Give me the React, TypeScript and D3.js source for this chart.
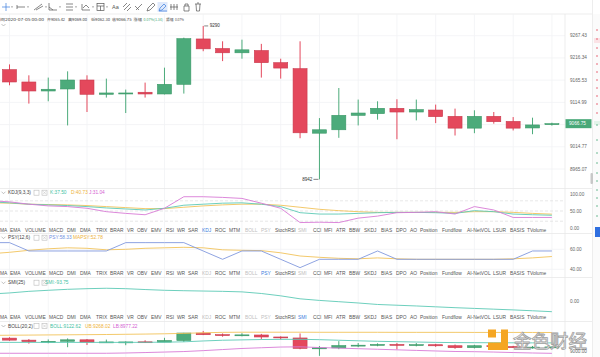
import React from "react";
import * as d3 from "d3";

// ---------- DATA ----------
const opens = [9189.5, 9161.3, 9140.8, 9145.4, 9165.8, 9133.3, 9134.9, 9137.9, 9134.0, 9156.0, 9259.9, 9237.9, 9228.1, 9233.3, 9205.4, 9191.7, 9045.3, 9053.0, 9085.6, 9089.4, 9101.5, 9093.1, 9097.6, 9083.3, 9056.7, 9083.3, 9071.9, 9057.1, 9065.42];
const highs = [9201.5, 9176.5, 9171.3, 9185.6, 9176.5, 9169.0, 9144.0, 9159.9, 9194.0, 9262.9, 9290.0, 9254.5, 9258.3, 9248.6, 9214.5, 9254.5, 9079.4, 9147.6, 9121.3, 9117.4, 9122.0, 9121.3, 9109.9, 9100.8, 9097.0, 9093.1, 9081.7, 9080.3, 9069.0];
const lows = [9153.8, 9112.2, 9117.4, 9062.8, 9093.1, 9125.8, 9090.8, 9125.8, 9133.0, 9134.9, 9231.7, 9209.0, 9214.5, 9171.3, 9169.0, 9034.0, 8942.0, 9034.9, 9062.8, 9075.8, 9031.7, 9074.2, 9068.0, 9040.1, 9045.3, 9066.7, 9051.5, 9043.0, 9062.3];
const closes = [9161.3, 9140.8, 9144.7, 9165.8, 9133.3, 9136.3, 9136.3, 9134.0, 9156.0, 9260.6, 9237.2, 9228.1, 9234.9, 9205.4, 9193.1, 9046.2, 9053.0, 9085.6, 9090.8, 9101.5, 9093.1, 9098.5, 9082.6, 9056.7, 9083.3, 9071.2, 9056.7, 9063.9, 9066.75];

const priceTicks = [9267.43, 9216.34, 9165.53, 9114.99, 9064.74, 9014.77, 8965.07];
const lastPrice = 9066.75;
const highMark = 9290;
const lowMark = 8942;

// indicator series (first value belongs to the candle before the first visible one)
const kdjK = [77, 74, 70, 68, 66, 63, 59, 56, 53, 58, 67, 70, 73, 74, 70, 63, 45, 41, 41, 43, 45, 46, 46, 45, 43, 51, 48, 41, 39, 37.5];
const kdjD = [74, 73, 70, 69, 68, 66, 63, 60, 57, 57, 61, 65, 68, 70, 70, 67, 61, 55, 51, 48, 46, 46, 46, 46, 46, 48, 48, 46, 43, 40.73];
const kdjJ = [80, 77, 70, 65, 63, 58, 48, 43, 39, 58, 92, 92, 90, 87, 73, 58, 16, 17, 16, 29, 35, 45, 46, 48, 41, 63, 53, 31, 31, 31.04];
const psy = [66.67, 66.67, 58.33, 58.33, 58.33, 58.33, 58.33, 66.67, 66.67, 66.67, 66.67, 58.33, 50, 58.33, 58.33, 50, 41.67, 50, 50, 50, 58.33, 50, 50, 50, 50, 50, 50, 50, 58.33, 58.33];
const mapsy = [55.5, 57, 59, 60.5, 61.5, 61, 59.5, 60, 61, 61.5, 62, 61.5, 59.5, 59, 58.7, 56.5, 53.3, 52, 51, 50.5, 51.4, 50.5, 50, 50, 50, 50, 50, 50.5, 51.4, 52.78];
const smi = [72, 82, 97, 107, 116, 122, 126, 122, 114, 107, 103, 100, 97, 92, 77, 55, 27, 12, 0, -12, -26, -33, -40, -48, -56, -63, -70, -77, -85, -93.75];
const bollUB = [9228, 9230, 9232, 9234, 9236, 9238, 9240, 9243, 9246, 9250, 9256, 9264, 9270, 9272, 9272, 9272, 9272, 9271, 9271, 9271, 9271, 9270, 9270, 9270, 9270, 9269, 9269, 9269, 9268.5, 9268.02];
const bollMID = [9130, 9130, 9130, 9130, 9130, 9130, 9130, 9130, 9131, 9133, 9138, 9150, 9160, 9165, 9170, 9172, 9173, 9168, 9160, 9152, 9145, 9140, 9135, 9130, 9127, 9126, 9125, 9124, 9123, 9122.62];
const bollLB = [8978, 8978, 8978, 8978, 8978, 8978, 8978, 8982, 8988, 8995, 9002, 9015, 9030, 9045, 9055, 9065, 9068, 9058, 9050, 9042, 9034, 9026, 9018, 9010, 9003, 9000, 8995, 8988, 8982, 8977.22];

const kdjTicks = [100, 50, 0];
const kdjDash = [80, 50, 20];
const psyTicks = [60, 40];
const smiTicks = [0];
const bollTicks = [9000];

const menuItems = ["MA", "EMA", "VOLUME", "MACD", "DMI", "DMA", "TRIX", "BRAR", "VR", "OBV", "EMV", "RSI", "WR", "SAR", "KDJ", "ROC", "MTM", "BOLL", "PSY", "StochRSI", "SMI", "CCI", "MFI", "ATR", "BBW", "SKDJ", "BIAS", "DPO", "AO", "Position", "Fundflow", "AI-NetVOL", "LSUR", "BASIS", "TVolume"];
const menuX = [0, 10, 25, 49, 67, 80, 96, 110, 127, 137, 151, 166, 177, 188, 202, 215, 229, 245, 261, 275, 298, 313, 324, 336, 349, 364, 381, 396, 410, 420, 442, 467, 493, 510, 527];

const headerSegs = [
  { t: "间2020-07-05 00:00", x: 0, w: 44, c: "#444" },
  { t: "开9065.42", x: 47, w: 18, c: "#444" },
  { t: "高9069.00", x: 68, w: 19, c: "#444" },
  { t: "低9062.30", x: 91, w: 19, c: "#444" },
  { t: "收9066.75", x: 112, w: 19.5, c: "#444" },
  { t: "涨幅", x: 133.5, w: 8.5, c: "#444" },
  { t: "0.07%(1.34)", x: 143.5, w: 19.5, c: "#3fa574" },
  { t: "振幅", x: 166, w: 7.5, c: "#444" },
  { t: "0.07%", x: 175, w: 9, c: "#444" },
];

// ---------- STYLE ----------
const UP = "#4cab7b";
const UP_S = "#3a9867";
const DOWN = "#e4485c";
const DOWN_S = "#c93a4d";
const C_K = "#5cc9b5";
const C_D = "#f2c35a";
const C_J = "#d87ad6";
const C_PSY = "#8199de";
const GRID = "#f1f3f5";
const SEP = "#e9e9e9";
const FONT = "'Liberation Sans', Arial, sans-serif";
const CJK = "'Noto Sans CJK SC', 'Liberation Sans', sans-serif";

const W = 600;
const H = 357;
const PR = 565;

export default function App() {
  const x = d3.scaleLinear().domain([0, 28]).range([9.5, 551.9]);
  const xi = (j: number) => x(j - 1);
  const yMain = d3.scaleLog().domain([8965.07, 9267.43]).range([169, 35.7]);
  const yKdj = d3.scaleLinear().domain([0, 100]).range([228, 194]);
  const yPsy = d3.scaleLinear().domain([40, 60]).range([269.3, 249.3]);
  const ySmi = d3.scaleLinear().domain([-93.75, 0]).range([311.7, 301.7]);
  const yBoll = d3.scaleLinear().domain([9000, 9268.02]).range([351.7, 332.5]);

  const mkLine = (ys: d3.ScaleLinear<number, number>) =>
    d3.line<number>().x((_, j) => xi(j)).y((v) => ys(v));

  const bw = 14;
  const candles = opens.map((o, i) => ({ i, o, h: highs[i], l: lows[i], c: closes[i] }));

  const drawCandles = (ys: (v: number) => number, minH: number, key: string) =>
    candles.map((d) => {
      const up = d.c >= d.o;
      const cx = x(d.i);
      const top = ys(Math.max(d.o, d.c));
      const hgt = Math.max(minH, Math.abs(ys(d.o) - ys(d.c)));
      return (
        <g key={key + d.i}>
          <line x1={cx} x2={cx} y1={ys(d.h)} y2={ys(d.l)} stroke={up ? UP : DOWN} strokeWidth={1} />
          <rect x={cx - bw / 2} y={top} width={bw} height={hgt} fill={up ? UP : DOWN} stroke={up ? UP_S : DOWN_S} strokeWidth={0.6} />
        </g>
      );
    });

  const evenIdx = d3.range(0, 29, 2);

  const chevron = (cx: number, cy: number) => (
    <path d={`M${cx - 2},${cy - 1} L${cx},${cy + 1} L${cx + 2},${cy - 1}`} fill="none" stroke="#999" strokeWidth={0.6} />
  );
  const icons = (sx: number, cy: number) => (
    <g>
      <rect x={sx} y={cy - 2.5} width={5} height={5} fill="none" stroke="#bbb" strokeWidth={0.6} />
      <rect x={sx + 8} y={cy - 2.5} width={5} height={5} fill="none" stroke="#bbb" strokeWidth={0.6} />
      <path d={`M${sx + 9},${cy - 1.5} L${sx + 12},${cy + 1.5} M${sx + 12},${cy - 1.5} L${sx + 9},${cy + 1.5}`} stroke="#bbb" strokeWidth={0.5} />
    </g>
  );

  const panelHeader = (cy: number, title: string, vals: { t: string; x: number; c: string }[]) => (
    <g>
      {chevron(3.5, cy)}
      <text x={8} y={cy} dominantBaseline="central" fontSize={4.8} fill="#444" fontFamily={FONT}>{title}</text>
      {icons(34, cy)}
      {vals.map((v) => (
        <text key={v.t} x={v.x} y={cy} dominantBaseline="central" fontSize={4.8} fill={v.c} fontFamily={FONT}>{v.t}</text>
      ))}
    </g>
  );

  const menuRow = (cy: number, active: string, used: string[]) => (
    <g>
      {menuItems.map((m, k) => (
        <text key={m} x={menuX[k]} y={cy} dominantBaseline="central" fontSize={4.9} fontFamily={FONT}
          fill={m === active ? "#3b7ddd" : used.includes(m) ? "#c0c0c0" : "#555"}>{m}</text>
      ))}
    </g>
  );

  const axisLabel = (v: string, cy: number, key: string) => (
    <text key={key} x={570} y={cy} dominantBaseline="central" fontSize={4.7} fill="#666" fontFamily={FONT}>{v}</text>
  );

  const tbY = 7;

  return (
    <svg width={W} height={H} viewBox={`0 0 ${W} ${H}`} style={{ position: "absolute", left: 0, top: 0, background: "#fff" }}>
      <defs>
        <clipPath id="plot"><rect x={0} y={14} width={PR} height={H - 14} /></clipPath>
      </defs>
      <rect x={0} y={0} width={W} height={H} fill="#fff" />

      {/* toolbar */}
      <g stroke="#555" strokeWidth={0.7} fill="none">
        <path d={`M2,${tbY} L10,${tbY} M6,${tbY - 4} L6,${tbY + 4}`} stroke="#3b7ddd" />
        <path d={`M17,${tbY} L25,${tbY} M17,${tbY - 2} L17,${tbY + 2}`} />
        <path d={`M34,${tbY + 3} L42,${tbY - 3} M36,${tbY + 3} L43,${tbY - 1}`} />
        <path d={`M49,${tbY - 4} L49,${tbY + 3} L57,${tbY + 3} M49,${tbY} L53,${tbY + 3}`} />
        <path d={`M66,${tbY - 3} L73,${tbY - 3} M66,${tbY} L73,${tbY} M66,${tbY + 3} L73,${tbY + 3}`} />
        <path d={`M82,${tbY - 3} L82,${tbY + 3} L90,${tbY + 3} M83,${tbY + 1} L86,${tbY - 2} L89,${tbY + 1}`} />
        <rect x={97} y={tbY - 3.5} width={7} height={7} />
        <path d={`M97,${tbY - 1} L104,${tbY - 1} M100.5,${tbY - 1} L100.5,${tbY + 3.5}`} />
        <path d={`M124,${tbY + 3} L130,${tbY - 3} M123,${tbY} L127,${tbY - 4} M127,${tbY + 4} L131,${tbY}`} />
        <path d={`M136,${tbY + 3} L142,${tbY - 3} M135,${tbY - 1} L139,${tbY + 3}`} />
        <path d={`M147,${tbY + 4} L148,${tbY + 1} L153,${tbY - 4} L155,${tbY - 2} L150,${tbY + 3} Z`} />
        <rect x={157.5} y={tbY - 5} width={10} height={10} fill="#dfe9fb" stroke="none" />
        <path d={`M159,${tbY + 3.5} L160,${tbY + 1} L164,${tbY - 3} L166,${tbY - 1} L162,${tbY + 3} Z M159,${tbY + 4} L167,${tbY + 4}`} stroke="#3b7ddd" />
        <path d={`M171,${tbY - 3} L171,${tbY + 3} M174,${tbY - 3} L174,${tbY + 3} M177,${tbY - 3} L177,${tbY + 3} M170,${tbY} L178,${tbY}`} />
        <path d={`M184,${tbY - 1} L184,${tbY + 4} L189,${tbY + 4} L189,${tbY - 1} Z M185,${tbY - 1} L185,${tbY - 3} L188,${tbY - 3} L188,${tbY - 1}`} />
        <path d={`M195,${tbY - 3} L201,${tbY - 3} M196,${tbY - 3} L196.5,${tbY + 4} L199.5,${tbY + 4} L200,${tbY - 3} M197,${tbY - 4} L199,${tbY - 4}`} />
      </g>
      <text x={112} y={tbY} dominantBaseline="central" fontSize={5.5} fill="#555" fontFamily={FONT}>Aa</text>
      {[11, 27, 45, 59, 75, 92, 106].map((tx) => (
        <path key={"tri" + tx} d={`M${tx},${tbY - 0.5} L${tx + 2},${tbY - 0.5} L${tx + 1},${tbY + 0.8} Z`} fill="#777" />
      ))}
      <line x1={0} x2={592} y1={14} y2={14} stroke={SEP} strokeWidth={0.8} />

      {/* vertical grid */}
      {evenIdx.map((i) => (
        <line key={"vg" + i} x1={x(i)} x2={x(i)} y1={14} y2={H} stroke={GRID} strokeWidth={0.8} />
      ))}
      {/* main horizontal grid */}
      {priceTicks.map((t) => (
        <line key={"hg" + t} x1={0} x2={PR} y1={yMain(t)} y2={yMain(t)} stroke={GRID} strokeWidth={0.8} />
      ))}

      {/* panel separators */}
      {[188.5, 233.5, 277.5, 321.5].map((yy) => (
        <line key={"sep" + yy} x1={0} x2={592} y1={yy} y2={yy} stroke={SEP} strokeWidth={0.8} />
      ))}
      <line x1={PR} x2={PR} y1={14} y2={H} stroke={SEP} strokeWidth={0.8} />

      {/* header */}
      {headerSegs.map((s) => (
        <text key={s.t} x={s.x} y={18.5} dominantBaseline="central" fontSize={3.9} fill={s.c} fontFamily={CJK}
          textLength={s.w} lengthAdjust="spacingAndGlyphs">{s.t}</text>
      ))}
      {chevron(3.5, 25)}

      {/* main candles */}
      <g clipPath="url(#plot)">{drawCandles(yMain, 1, "m")}</g>

      {/* high / low marks */}
      <line x1={x(10) + 1} x2={x(10) + 5} y1={yMain(highMark)} y2={yMain(highMark)} stroke="#333" strokeWidth={0.6} />
      <text x={x(10) + 6.5} y={yMain(highMark)} dominantBaseline="central" fontSize={4.6} fill="#333" fontFamily={FONT}>{String(highMark)}</text>
      <line x1={x(16) - 6} x2={x(16) - 1} y1={yMain(lowMark)} y2={yMain(lowMark)} stroke="#333" strokeWidth={0.6} />
      <text x={x(16) - 7} y={yMain(lowMark)} dominantBaseline="central" textAnchor="end" fontSize={4.6} fill="#333" fontFamily={FONT}>{String(lowMark)}</text>

      {/* price axis */}
      {priceTicks.filter((t) => Math.abs(yMain(t) - yMain(lastPrice)) > 6).map((t) => axisLabel(t.toFixed(2), yMain(t), "pt" + t))}
      <rect x={565.5} y={yMain(lastPrice) - 4.5} width={26} height={9} fill="#48a878" />
      <text x={569} y={yMain(lastPrice)} dominantBaseline="central" fontSize={4.7} fill="#fff" fontFamily={FONT}>{lastPrice.toFixed(2)}</text>

      {/* KDJ panel */}
      {panelHeader(192.7, "KDJ(9,3,3)", [
        { t: "K:" + kdjK[kdjK.length - 1].toFixed(2), x: 50, c: "#3fbfa3" },
        { t: "D:" + kdjD[kdjD.length - 1].toFixed(2), x: 71, c: "#eeb23a" },
        { t: "J:" + kdjJ[kdjJ.length - 1].toFixed(2), x: 89, c: "#d45fd2" },
      ])}
      {kdjDash.map((v) => (
        <line key={"kd" + v} x1={0} x2={PR} y1={yKdj(v)} y2={yKdj(v)} stroke="#d6d6d6" strokeWidth={0.6} strokeDasharray="3,2" />
      ))}
      <g clipPath="url(#plot)" fill="none" strokeWidth={0.9}>
        <path d={mkLine(yKdj)(kdjD) || ""} stroke={C_D} />
        <path d={mkLine(yKdj)(kdjK) || ""} stroke={C_K} />
        <path d={mkLine(yKdj)(kdjJ) || ""} stroke={C_J} />
      </g>
      {kdjTicks.map((t) => axisLabel(t.toFixed(2), yKdj(t), "kt" + t))}
      {menuRow(230, "KDJ", ["BOLL", "PSY", "SMI"])}

      {/* PSY panel */}
      {panelHeader(237.7, "PSY(12,6)", [
        { t: "PSY:" + psy[psy.length - 1].toFixed(2), x: 49, c: "#6f8fe0" },
        { t: "MAPSY:" + mapsy[mapsy.length - 1].toFixed(2), x: 73, c: "#eeb23a" },
      ])}
      {psyTicks.map((t) => (
        <line key={"pg" + t} x1={0} x2={PR} y1={yPsy(t)} y2={yPsy(t)} stroke={GRID} strokeWidth={0.8} />
      ))}
      <g clipPath="url(#plot)" fill="none" strokeWidth={0.9}>
        <path d={mkLine(yPsy)(mapsy) || ""} stroke={C_D} />
        <path d={mkLine(yPsy)(psy) || ""} stroke={C_PSY} />
      </g>
      {psyTicks.map((t) => axisLabel(t.toFixed(2), yPsy(t), "ps" + t))}
      {menuRow(273.3, "PSY", ["KDJ", "BOLL", "SMI"])}

      {/* SMI panel */}
      {panelHeader(282.7, "SMI(25)", [
        { t: "SMI:" + smi[smi.length - 1].toFixed(2), x: 45, c: "#3fbfa3" },
      ])}
      <g clipPath="url(#plot)" fill="none" strokeWidth={0.9}>
        <path d={mkLine(ySmi)(smi) || ""} stroke={C_K} />
      </g>
      {smiTicks.map((t) => axisLabel(t.toFixed(2), ySmi(t), "sm" + t))}
      {menuRow(317.3, "SMI", ["KDJ", "BOLL", "PSY"])}

      {/* BOLL panel */}
      {panelHeader(326, "BOLL(20,2)", [
        { t: "BOLL:" + bollMID[bollMID.length - 1].toFixed(2), x: 50, c: "#3fbfa3" },
        { t: "UB:" + bollUB[bollUB.length - 1].toFixed(2), x: 85, c: "#eeb23a" },
        { t: "LB:" + bollLB[bollLB.length - 1].toFixed(2), x: 113, c: "#d45fd2" },
      ])}
      <g clipPath="url(#plot)">{drawCandles(yBoll, 0.9, "b")}</g>
      <g clipPath="url(#plot)" fill="none" strokeWidth={0.9}>
        <path d={mkLine(yBoll)(bollUB) || ""} stroke={C_D} />
        <path d={mkLine(yBoll)(bollMID) || ""} stroke={C_K} />
        <path d={mkLine(yBoll)(bollLB) || ""} stroke={C_J} />
      </g>

      {/* watermark */}
      <g fill="#f5a623">
        <rect x={488} y={329.5} width={8} height={8} />
        <rect x={501} y={329.5} width={7} height={20.5} />
        <rect x={488} y={342.5} width={20} height={7.5} />
      </g>
      <text x={513} y={348} fontSize={18.5} fontFamily={CJK} fill="#fafafa" stroke="#a0a0a0" strokeWidth={0.8}>金色财经</text>
      {bollTicks.map((t) => axisLabel(t.toFixed(2), yBoll(t), "bt" + t))}

      {/* right strip */}
      <rect x={592.5} y={14} width={8} height={H - 14} fill="#fbfbfb" />
      <line x1={592.5} x2={592.5} y1={0} y2={H} stroke={SEP} strokeWidth={0.8} />
      <rect x={594} y={38} width={6} height={5} fill="#fbe3e6" />
      {[30, 39, 48, 56, 64, 72, 80, 88, 96, 104, 113].map((yy) => (
        <line key={"rs" + yy} x1={596} x2={598} y1={yy} y2={yy} stroke={DOWN} strokeWidth={0.8} />
      ))}
      <rect x={594} y={121} width={6} height={4} fill="#e3f4ea" />
      {[125, 140, 153, 163, 173, 181, 190, 198, 206, 216].map((yy) => (
        <line key={"gs" + yy} x1={596} x2={598} y1={yy} y2={yy} stroke={UP} strokeWidth={0.8} />
      ))}
      <rect x={595} y={227} width={5} height={10} fill="#2f6fe0" />
      <rect x={590.5} y={173} width={2.5} height={11} fill="#c8c8c8" rx={1} />
    </svg>
  );
}
